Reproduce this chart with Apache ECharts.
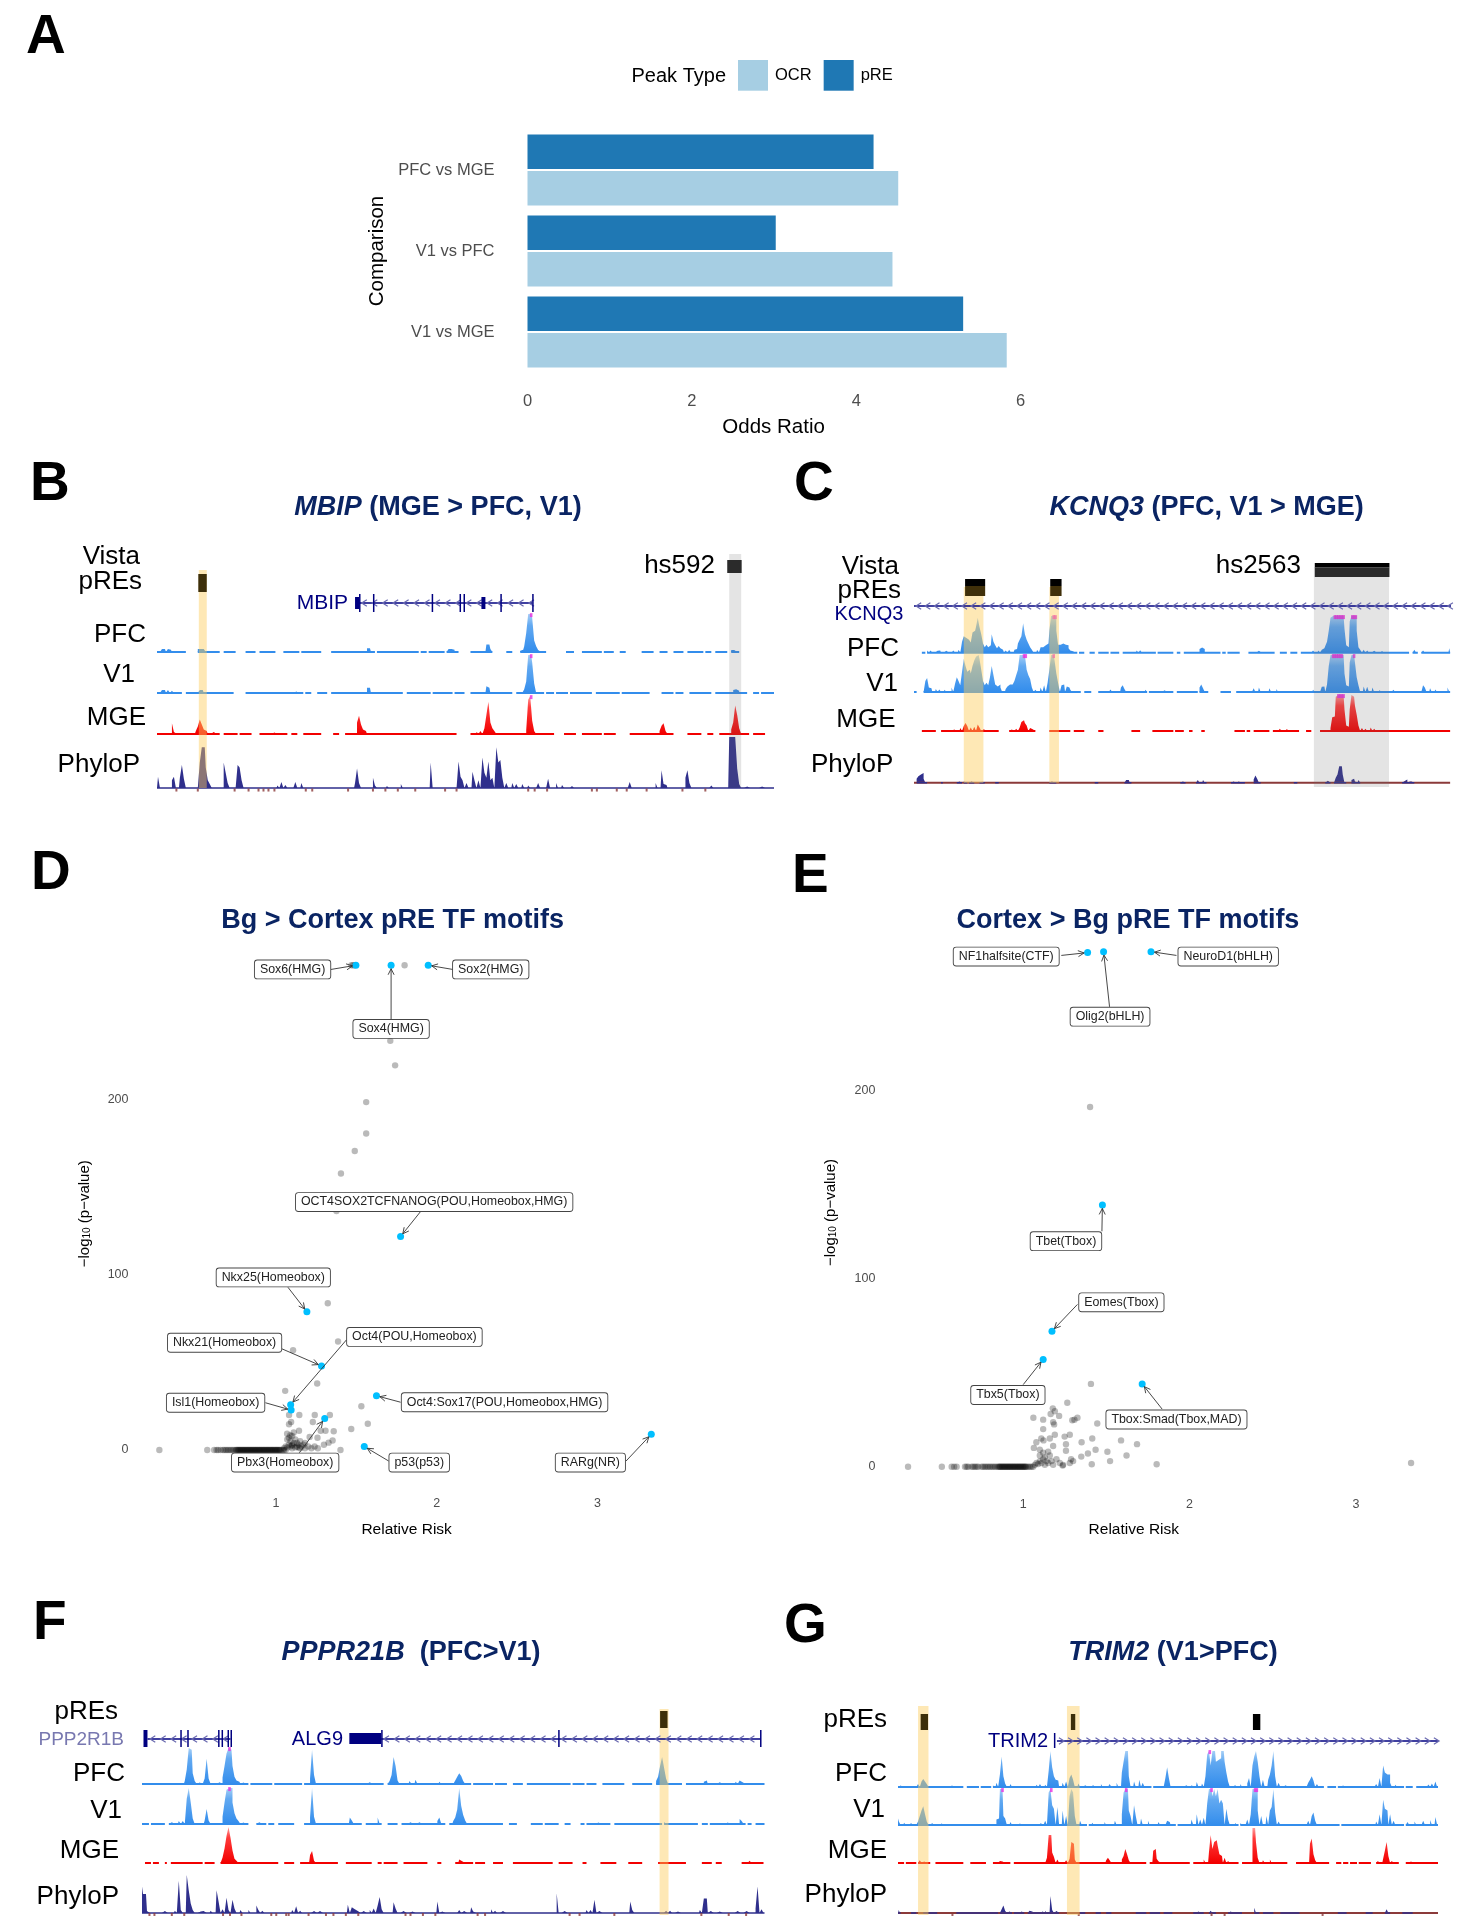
<!DOCTYPE html>
<html><head><meta charset="utf-8">
<style>html,body{margin:0;padding:0;background:#fff}#c{width:1464px;height:1920px}</style>
<script src="https://cdn.jsdelivr.net/npm/echarts@6/dist/echarts.min.js"></script>
</head><body><div id="c"></div>
<script>
// ---------- Panel A ----------
const comparisons=['PFC vs MGE','V1 vs PFC','V1 vs MGE'];
const orPRE=[4.21,3.02,5.30];
const orOCR=[4.51,4.44,5.83];

// ---------- Panel D ----------
const dGreyX=[1.469,1.479,1.49,1.8,1.711,1.741,1.561,1.561,1.49,1.404,1.376,1.322,1.386,1.106,1.256,1.057,1.531,1.335,1.241,1.145,1.081,1.229,1.571,1.094,1.081,1.468,1.143,1.278,1.308,1.359,1.069,1.089,1.209,1.258,1.352,1.327,1.298,1.401,1.05,1.06,1.07,1.08,1.09,1.09,1.1,1.1,1.11,1.12,1.12,1.13,1.13,1.14,1.15,1.15,1.16,1.17,1.18,1.18,1.2,1.22,1.07,1.08,1.1,1.11,1.24,1.26,1.1,1.14];
const dGreyY=[277,277,277,277,233.8,219.8,198.8,180.9,170.9,158,136.6,83.9,62,57,38,33.8,25,20,20,20,20,16,15,16,14.7,12,11,11,11,10.7,9.3,8.4,7.5,7,5.4,4.2,3,0,1,2,1.5,3,2,5,1,3,4,1.5,6,2,4,3,1,5,2,3,1,4,2,1,6,7,8,10,2,1,2.5,1.5];
const dRowX=[.274,.572,.615,.63,.64,.655,.67,.68,.69,.7,.71,.72,.73,.74,.75,.755,.76,.765,.77,.775,.78,.785,.79,.795,.8,.805,.81,.815,.82,.825,.83,.835,.84,.845,.85,.855,.86,.865,.87,.875,.88,.885,.89,.895,.9,.905,.91,.915,.92,.925,.93,.935,.94,.945,.95,.955,.96,.965,.97,.975,.98,.985,.99,.995,1,1.005,1.01,1.015,1.02,1.025,1.03,1.04,1.05,1.06];
const dMotifs=['Sox6(HMG)','Sox4(HMG)','Sox2(HMG)','OCT4SOX2TCFNANOG(POU,Homeobox,HMG)','Nkx25(Homeobox)','Nkx21(Homeobox)','Oct4(POU,Homeobox)','Isl1(Homeobox)','Pbx3(Homeobox)','Oct4:Sox17(POU,Homeobox,HMG)','p53(p53)','RARg(NR)'];
const dRisk=[1.497,1.716,1.947,1.775,1.192,1.283,1.091,1.094,1.303,1.625,1.549,3.335];
const dLogP=[277,277,277,122,79,48,25.9,22.8,18,31,2,9];
const dLabelX=[1.103,1.716,2.336,1.984,.983,.68,1.861,.624,1.057,2.422,1.891,2.956];
const dLabelY=[274.6,240.6,274.6,141.7,98.6,61.3,64.6,27,-7.2,27.3,-7.2,-7.2];
const dLeadX=[1.342,1.716,2.1,1.898,1.074,1.037,1.438,.934,1.145,1.775,1.701,3.178];
const dLeadY=[274.6,246,274.6,136.1,93,57.8,62.9,27,-1.6,27.3,-6.3,-6.3];

// ---------- Panel E ----------
const eGreyX=[1.402,1.407,1.265,1.178,1.19,1.165,1.216,1.061,1.12,1.326,1.308,1.295,1.18,1.186,1.445,1.12,1.28,1.19,1.16,1.109,1.122,1.249,1.415,1.588,1.684,1.351,1.079,1.257,1.064,1.18,1.257,1.435,1.506,1.621,1.389,1.349,1.288,1.522,1.412,1.802,1.237,3.331,1.07,1.08,1.09,1.1,1.1,1.11,1.12,1.13,1.13,1.14,1.15,1.16,1.17,1.18,1.2,1.22,1.1,1.12,1.15,1.24,1.28,1.3];
const eGreyY=[191,44,34,31,29.5,28,27,26,25,26,25,24.7,23.6,22.5,23,20,17,17,15,15,14,16,15,14,12,13,13,12,10,11,8.5,9,8,6,7,5.4,4,3,1.3,1.3,.6,2,1,2,1.5,3,6,2,4,1,5,3,2,6,3,1,4,2,9,7.5,8,1,2,3];
const eRowX=[.308,.511,.57,.585,.6,.65,.66,.67,.69,.7,.71,.72,.73,.75,.76,.77,.78,.79,.8,.81,.82,.83,.84,.85,.855,.86,.865,.87,.875,.88,.885,.89,.895,.9,.905,.91,.915,.92,.925,.93,.935,.94,.945,.95,.955,.96,.965,.97,.975,.98,.985,.99,.995,1,1.005,1.01,1.015,1.02,1.03,1.04,1.05,1.06];
const eMotifs=['NF1halfsite(CTF)','Olig2(bHLH)','NeuroD1(bHLH)','Tbet(Tbox)','Eomes(Tbox)','Tbx5(Tbox)','Tbox:Smad(Tbox,MAD)'];
const eRisk=[1.387,1.483,1.768,1.476,1.173,1.12,1.715];
const eLogP=[273,273.5,273.5,139,72,57,44];
const eLabelX=[.898,1.522,2.232,1.257,1.59,.908,1.921];
const eLabelY=[270.9,239,270.9,119.8,87.3,38.1,25.1];
const eLeadX=[1.229,1.519,1.921,1.473,1.326,1,1.835];
const eLeadY=[271.5,244.2,271.5,125,86.2,43.6,30.6];

// ---------- Browser tracks: covered ranges, then position,height pairs ----------
const bPfcCov=[[316,372],[398,443],[450,472],[495,512],[523,553],[570,600],[605,645],[668,752],[758,764],[768,840],[848,856],[862,895],[900,922],[945,990],[1020,1030],[1048,1096],[1140,1152],[1170,1210],[1215,1232],[1248,1258],[1290,1312],[1328,1340],[1355,1375],[1382,1412],[1420,1428],[1440,1462],[1470,1485]];
const bPfcVal=[328,8,332,8,340,8,344,6,400,8,404,8,408,8,412,8,740,10,744,10,904,8,908,8,912,6,980,20,984,20,988,8,1048,3,1052,6,1056,15,1060,50,1064,100,1068,100,1072,90,1076,30,1080,15,1084,5,1472,5,1476,5];
const bPfcClip=[1068];
const bV1Cov=[[316,365],[375,470],[495,532],[535,608],[615,624],[640,656],[668,810],[818,865],[870,910],[915,932],[945,1010],[1012,1030],[1040,1095],[1100,1112],[1118,1142],[1148,1188],[1200,1245],[1250,1305],[1330,1355],[1360,1375],[1385,1430],[1440,1500],[1515,1525],[1530,1558]];
const bV1Val=[328,8,332,8,340,8,348,6,404,8,408,8,596,4,740,14,744,14,980,18,984,14,1052,5,1056,10,1060,30,1064,100,1068,100,1072,80,1076,25,1372,4,1474,8,1478,10,1482,6];
const bV1Clip=[1068];
const bMgeCov=[[316,390],[392,440],[452,478],[484,505],[522,578],[588,598],[610,645],[672,680],[695,918],[948,1028],[1030,1112],[1135,1158],[1170,1210],[1215,1238],[1268,1355],[1382,1408],[1422,1432],[1448,1505],[1515,1538]];
const bMgeVal=[348,28,352,5,396,8,400,20,404,38,408,25,412,12,416,8,428,5,548,4,552,4,720,30,724,48,728,25,732,12,736,8,960,6,968,8,976,15,980,50,984,85,988,30,992,15,996,8,1060,10,1064,90,1068,100,1072,35,1076,8,1280,4,1326,8,1330,22,1334,28,1338,8,1470,12,1474,30,1478,75,1482,50,1486,15];
const bMgeClip=[1068];
const bPhyloCov=[[316,1558]];
const bPhyloVal=[318,22,346,15,350,22,362,20,366,45,370,18,404,50,408,80,412,80,416,40,420,15,424,8,452,50,456,30,460,10,480,45,484,40,488,15,560,5,568,12,576,6,594,12,606,10,648,3,716,10,720,38,724,10,750,20,754,5,780,4,808,8,868,50,924,52,928,22,932,15,940,10,952,32,956,15,964,15,970,60,974,30,978,20,982,52,986,15,990,20,998,80,1002,50,1006,55,1010,20,1020,10,1030,10,1040,8,1050,8,1064,5,1084,10,1104,18,1118,10,1130,6,1150,4,1266,12,1320,10,1330,35,1334,8,1340,6,1380,20,1384,35,1388,10,1430,5,1466,100,1470,100,1474,100,1478,100,1482,38,1486,8,1500,3,1530,3];
const bPhyloNeg=[355,398,472,500,520,530,540,552,615,628,700,750,775,800,835,895,918,1062,1075,1100,1190,1200,1240,1260,1300,1372,1418];

const cPfcCov=[[328,335],[338,680],[688,698],[712,722],[730,752],[758,778],[788,860],[868,902],[912,918],[925,1010],[1015,1022],[1028,1052],[1073,1132],[1145,1160],[1170,1185],[1195,1440],[1450,1460],[1470,1538]];
const cPfcVal=[340,6,348,6,360,5,368,6,380,5,400,6,412,8,420,30,424,45,428,40,432,35,436,30,440,28,444,55,448,60,452,70,456,95,460,70,464,50,468,25,472,15,476,22,480,15,484,20,488,50,492,30,496,20,500,12,504,18,508,12,512,8,520,6,528,8,540,8,544,10,548,25,552,35,556,45,560,80,564,50,568,35,572,25,576,15,580,8,592,8,600,15,604,15,608,20,612,18,616,25,620,60,624,100,628,100,632,100,636,60,640,22,644,22,648,25,652,20,656,22,660,20,664,12,668,6,672,4,820,6,828,7,964,10,968,14,972,10,1096,5,1208,5,1224,6,1236,6,1244,8,1248,12,1252,18,1256,30,1260,60,1264,95,1268,100,1272,100,1276,100,1280,100,1284,100,1288,100,1292,100,1296,65,1300,20,1304,15,1308,85,1312,100,1316,100,1320,100,1324,60,1328,15,1332,8,1340,8,1348,6,1360,5,1380,4,1400,4,1456,8,1476,6,1536,12];
const cPfcClip=[1272,1276,1280,1284,1288,1292,1312,1316,1320,628,632];
const cV1Cov=[[308,315],[332,516],[520,690],[698,712],[732,840],[845,900],[912,958],[962,980],[1010,1032],[1048,1538]];
const cV1Val=[336,30,340,38,344,12,348,10,360,8,368,7,380,6,396,12,404,22,408,40,412,30,416,18,420,55,424,90,428,70,432,55,436,60,440,50,444,70,448,85,452,95,456,100,460,90,464,60,468,30,472,18,476,25,480,18,484,40,488,70,492,45,496,20,500,15,504,20,508,12,520,8,524,15,528,20,532,20,536,25,540,30,544,45,548,60,552,100,556,100,560,100,564,100,568,60,572,45,576,35,580,12,588,6,600,12,608,18,616,25,620,60,624,100,628,100,632,85,636,50,640,25,648,18,652,20,660,15,664,12,668,6,744,5,760,7,784,12,788,18,792,8,840,6,880,5,964,12,968,20,972,10,1060,4,1088,10,1100,12,1124,10,1140,8,1168,5,1224,6,1244,14,1248,15,1256,20,1260,70,1264,100,1268,100,1272,100,1276,100,1280,100,1284,100,1288,100,1292,100,1296,50,1300,18,1304,15,1308,80,1312,100,1316,100,1320,80,1324,40,1328,18,1340,15,1348,14,1360,12,1376,6,1408,6,1476,18,1480,12,1492,10,1504,7,1532,12];
const cV1Clip=[560,564,628,1268,1272,1276,1280,1284,1288,1316];
const cMgeCov=[[328,356],[370,500],[527,586],[618,665],[675,698],[732,740],[808,826],[855,902],[908,925],[938,945],[965,974],[1043,1065],[1070,1078],[1088,1120],[1132,1190],[1205,1218],[1240,1538]];
const cMgeVal=[400,4,416,8,424,14,428,22,432,14,440,10,448,12,456,18,460,10,468,5,480,3,532,4,544,6,552,10,556,25,560,30,564,22,568,15,576,8,580,5,1148,6,1160,5,1264,8,1268,38,1272,40,1276,95,1280,100,1284,100,1288,100,1292,100,1296,60,1300,15,1304,12,1308,60,1312,100,1316,95,1320,70,1324,45,1328,15,1336,8,1344,6,1356,10,1364,6,1380,4];
const cMgeClip=[1280,1284,1288,1292];
const cPhyloCov=[[316,336],[408,416],[421,429],[436,444],[460,468],[495,503],[620,634],[722,730],[792,804],[920,930],[955,964],[968,976],[1036,1056],[1060,1066],[1086,1100],[1178,1186],[1252,1260],[1270,1296],[1310,1330],[1428,1452]];
const cPhyloVal=[316,12,320,20,324,25,328,30,332,12,372,3,412,4,424,4,440,4,464,3,500,6,624,4,632,4,728,3,796,8,800,8,924,4,960,8,972,8,1040,4,1052,4,1064,4,1088,10,1092,22,1096,12,1184,6,1256,6,1276,15,1280,25,1284,50,1288,50,1292,25,1312,8,1316,12,1320,4,1328,8,1432,5,1436,10,1444,4,1448,4];
const cPhyloBase=[[308,1538]];

const fPfcCov=[[285,498],[505,545],[550,605],[612,770],[780,945],[950,990],[995,1018],[1030,1052],[1060,1145],[1150,1175],[1180,1198],[1210,1254],[1270,1310],[1325,1370],[1378,1538]];
const fPfcVal=[293,4,349,3,373,8,377,40,381,100,385,95,389,30,393,8,401,4,413,15,417,70,421,15,441,5,449,18,453,50,457,85,461,100,465,95,469,50,473,20,477,10,481,6,489,4,529,3,565,3,625,15,629,95,633,25,689,3,709,4,741,5,761,3,785,8,789,25,793,75,797,50,801,10,825,8,837,12,853,5,885,6,917,10,921,20,925,30,929,22,933,8,1081,3,1109,3,1321,8,1325,20,1329,50,1333,75,1337,45,1341,15,1417,6,1421,10,1445,5,1481,6,1489,10,1493,5];
const fPfcClip=[461];
const fV1Cov=[[285,300],[305,330],[340,500],[515,535],[540,552],[560,590],[612,728],[735,768],[778,800],[808,895],[905,1012],[1022,1038],[1068,1090],[1095,1122],[1135,1148],[1168,1176],[1180,1225],[1235,1330],[1340,1400],[1410,1422],[1428,1498],[1505,1512],[1520,1538]];
const fV1Val=[345,5,361,8,369,8,377,70,381,100,385,60,389,15,413,10,417,42,421,10,449,20,453,60,457,95,461,100,465,100,469,60,473,30,477,15,481,8,489,4,521,5,625,18,629,100,633,20,705,18,709,10,725,5,761,18,825,5,841,5,881,8,885,18,913,8,917,18,921,40,925,100,929,50,933,25,937,10,989,4,1201,4,1329,4,1337,5,1401,4,1461,4,1489,14,1493,8];
const fV1Clip=[461];
const fMgeCov=[[292,302],[308,318],[330,336],[345,405],[412,432],[442,560],[570,590],[605,680],[695,745],[758,768],[770,800],[810,858],[880,888],[915,950],[955,975],[990,1012],[1030,1110],[1125,1150],[1172,1180],[1208,1240],[1262,1290],[1325,1380],[1412,1432],[1440,1452],[1490,1535]];
const fMgeVal=[449,15,453,40,457,75,461,100,465,70,469,35,473,12,477,6,625,22,629,33,633,6,925,10,929,5,1509,6];
const fPhyloCov=[[285,1538]];
const fPhyloVal=[285,70,289,50,293,50,297,5,329,5,345,5,353,6,361,85,365,8,377,100,381,60,385,25,389,8,401,4,409,5,425,6,437,60,441,30,449,10,457,40,461,8,469,35,473,12,485,8,501,8,517,20,521,8,529,6,589,8,597,18,605,6,629,5,641,5,701,22,709,15,713,10,717,5,729,5,745,8,753,12,761,20,765,42,769,10,793,28,797,12,809,5,829,4,861,4,881,30,889,4,925,8,933,5,949,15,953,4,989,10,997,6,1009,5,1121,52,1133,5,1149,5,1181,8,1189,8,1197,35,1205,5,1225,4,1269,30,1273,8,1301,3,1341,6,1349,6,1361,4,1409,8,1417,38,1421,38,1429,5,1445,4,1481,5,1501,5,1521,12,1525,70,1533,10];
const fPhyloNeg=[300,310,345,370,448,462,485,545,555,575,580,620,655,670,695,720,815,825,850,875,960,975,1145,1165,1235,1410,1465,1500];

const gPfcCov=[[270,418],[430,455],[460,484],[490,850],[858,1248],[1255,1275],[1280,1430],[1438,1450],[1460,1510]];
const gPfcVal=[274,4,278,3,318,8,326,15,330,22,334,15,338,8,366,4,394,4,490,4,498,12,506,35,510,85,514,30,518,10,530,8,546,5,590,6,598,8,610,6,618,45,622,100,626,55,630,30,634,20,638,18,650,12,658,15,666,25,670,35,674,20,686,10,698,5,718,5,738,8,758,8,774,12,786,40,790,70,794,100,798,100,802,30,814,15,826,20,834,12,846,5,882,5,886,25,890,55,894,25,930,5,946,6,958,14,970,10,978,30,982,90,986,100,990,60,994,100,998,100,1002,70,1006,75,1010,80,1014,100,1018,100,1022,70,1026,40,1030,15,1042,5,1058,8,1074,10,1078,25,1086,60,1090,85,1094,100,1098,70,1102,30,1110,20,1122,20,1126,35,1130,60,1134,100,1138,30,1146,12,1158,5,1214,12,1218,20,1222,30,1226,18,1234,8,1246,4,1290,4,1342,4,1370,8,1378,25,1386,60,1390,40,1394,35,1398,35,1402,12,1414,6,1490,7,1498,10,1506,15];
const gPfcClip=[986];
const gV1Cov=[[270,705],[710,908],[912,1050],[1055,1258],[1262,1285],[1290,1430],[1435,1510]];
const gV1Val=[270,18,274,10,286,6,298,5,318,10,322,25,326,40,330,52,334,30,338,10,350,6,370,4,398,3,498,15,502,18,506,100,510,100,514,25,518,18,530,8,550,4,598,5,610,12,618,90,622,100,626,55,630,45,638,50,650,40,658,25,666,80,670,100,674,90,678,25,690,12,718,6,746,8,770,12,786,30,790,90,794,100,798,100,802,40,806,25,814,55,818,25,830,18,846,12,870,8,890,12,894,8,926,5,946,15,958,30,966,15,974,20,982,60,986,100,990,100,994,80,998,100,1002,80,1006,100,1010,60,1014,70,1018,60,1026,45,1030,15,1046,6,1058,5,1074,15,1082,30,1086,100,1090,100,1094,100,1098,40,1106,25,1118,25,1126,40,1130,50,1134,100,1138,35,1146,10,1174,4,1214,12,1222,25,1226,35,1230,12,1270,4,1298,3,1370,10,1378,30,1386,70,1390,45,1394,40,1402,30,1410,12,1442,8,1458,10,1478,12,1494,14,1506,22];
const gV1Clip=[510,622,794,990,1090,1094];
const gMgeCov=[[270,285],[290,312],[315,345],[358,418],[435,470],[488,528],[535,718],[722,840],[850,940],[948,1052],[1060,1165],[1185,1258],[1275,1288],[1292,1302],[1308,1322],[1328,1342],[1345,1355],[1368,1420],[1435,1510]];
const gMgeVal=[322,8,330,4,506,6,510,4,614,15,618,80,622,80,626,30,630,18,638,10,658,8,666,12,670,60,674,55,678,10,750,8,754,15,758,8,786,10,790,20,794,40,798,25,802,8,858,35,862,40,866,12,870,5,974,10,986,30,990,80,994,40,998,60,1002,65,1006,50,1010,25,1014,20,1022,15,1030,6,1086,100,1090,100,1094,60,1098,15,1110,8,1126,10,1218,55,1222,70,1226,25,1230,8,1374,6,1386,12,1390,35,1394,60,1398,20,1406,6,1446,4];
const gPhyloCov=[[270,276],[300,310],[330,360],[405,500],[505,530],[535,560],[570,640],[690,700],[725,735],[750,760],[815,840],[850,870],[880,900],[950,970],[985,1000],[1030,1060],[1090,1100],[1110,1130],[1150,1190],[1280,1300],[1345,1360],[1390,1400],[1430,1450]];
const gPhyloVal=[270,8,510,10,514,20,518,6,526,4,554,4,574,6,578,4,602,4,610,6,622,45,626,8,634,5,958,4,990,6,1034,4,1090,14,1394,10,1442,5];
const gPhyloBase=[[270,1510]];
const gPhyloNeg=[395,685,990,1245,1020];

// Regions along each browser window
const bYellow=[[400,416]], bGrey=[[1466,1490]], bBrownBox=[[399,416]], bDarkBox=[[1462,1491]];
const cYellow=[[422,467],[618,640]], cGrey=[[1224,1396]], cBoxes=[[425,471],[620,646]], cHsBox=[[1226,1397]];
const fYellow=[[1326,1344]], fBrownBox=[[1327,1342]];
const gYellow=[[316,340],[658,687]], gBrownBox=[[322,339],[667,677]], gBlackBox=[[1085,1102]];
// Gene models: intron range, wide exons, thin exons
const mbipIntron=[[722,1070]], mbipWide=[[714,722],[968,976]], mbipThin=[722,750,868,924,932,1006,1070];
const kcnq3Intron=[[308,1538]];
const ppp2Intron=[[296,463]], ppp2Wide=[[288,296]], ppp2Thin=[362,376,438,445,457,463];
const alg9Intron=[[766,1530]], alg9Wide=[[702,766]], alg9Thin=[766,1122,1528];
const trim2Intron=[[635,1510]], trim2Thin=[628];

// ---------- Helpers ----------
const FONT='"Liberation Sans",Arial,Helvetica,sans-serif', NAVY='#0a2463', GENE='#000080';
const STEP=4;
const grid=[],xAxis=[],yAxis=[],series=[],graphic=[];
function addGrid(r,xa,ya){grid.push(r);const i=grid.length-1;
  xAxis.push(Object.assign({gridIndex:i},xa));yAxis.push(Object.assign({gridIndex:i},ya));return i;}
const hidden=(min,max)=>({type:'value',show:false,min,max});
function binned(xMin,xMax,cov,vals){
  const out=[];
  for(let p=xMin;p<=xMax;p+=STEP) out.push([p,cov.some(s=>p>=s[0]&&p<=s[1])?0:null]);
  for(let i=0;i<vals.length;i+=2){
    const o=out[Math.round((vals[i]-xMin)/STEP)];
    if(o) o[1]=Math.max(o[1]||0,vals[i+1]);
  }
  return out;
}
const grad=(a,b,c)=>new echarts.graphic.LinearGradient(0,0,0,1,[{offset:0,color:a},{offset:.3,color:b},{offset:1,color:c}]);
function addLine(i,data,color,width,z){
  series.push({type:'line',step:'middle',xAxisIndex:i,yAxisIndex:i,data,symbol:'none',showSymbol:false,silent:true,clip:false,z,
    lineStyle:{width,color},itemStyle:{color}});
}
function addTrack(p,t){
  const i=addGrid({left:p.left,width:p.width,top:t.top,height:t.base-t.top,containLabel:false},hidden(p.xMin,p.xMax),hidden(0,100));
  const d=binned(p.xMin,p.xMax,t.cov,t.vals);
  series.push({type:'line',step:'middle',xAxisIndex:i,yAxisIndex:i,data:d,symbol:'none',showSymbol:false,silent:true,clip:false,z:2,
    lineStyle:{width:0},areaStyle:{opacity:1,color:grad(t.c[0],t.c[1],t.c[2])}});
  addLine(i,d.map(v=>[v[0],v[1]===null?null:0]),t.c[2],2,2);
  if(t.clip) series.push({type:'scatter',xAxisIndex:i,yAxisIndex:i,data:t.clip.map(x=>[x,97]),symbol:'rect',symbolSize:[2.6,4],silent:true,z:3,itemStyle:{color:'#ea2fe0'}});
  return i;
}
function addPhylo(p,t){
  const h=t.base-t.top;
  const i=addGrid({left:p.left,width:p.width,top:t.top,height:h*1.1},hidden(p.xMin,p.xMax),hidden(-10,100));
  if(t.brown) addLine(i,binned(p.xMin,p.xMax,t.brown,[]),'#8b3a3a',2,2);
  const d=binned(p.xMin,p.xMax,t.cov,t.vals);
  series.push({type:'line',step:'middle',xAxisIndex:i,yAxisIndex:i,data:d,symbol:'none',showSymbol:false,silent:true,clip:false,z:2,
    lineStyle:{width:0},areaStyle:{opacity:1,color:'#2f2f8c'}});
  addLine(i,d.map(v=>[v[0],v[1]===null?null:0]),'#2f2f8c',1.6,2);
  if(t.neg) series.push({type:'scatter',xAxisIndex:i,yAxisIndex:i,data:t.neg.map(x=>[x,-4]),symbol:'rect',symbolSize:[2,3],silent:true,z:2,itemStyle:{color:'#8b3a3a'}});
  return i;
}
function spans(i,list,y0,y1,fill,z){
  series.push({type:'custom',xAxisIndex:i,yAxisIndex:i,silent:true,z,clip:false,data:list,encode:{x:[0,1]},
    renderItem(_,api){
      const a=api.coord([api.value(0),0])[0],b=api.coord([api.value(1),0])[0];
      return {type:'rect',shape:{x:a,y:y0,width:Math.max(b-a,1.5),height:y1-y0},style:{fill}};
    }});
}
function ticks(i,list,y0,y1,color){spans(i,list.map(x=>[x,x]),y0,y1,color,6);}
function gene(i,list,y,dir,spacing,color,chev){
  series.push({type:'custom',xAxisIndex:i,yAxisIndex:i,silent:true,z:6,clip:false,data:list,encode:{x:[0,1]},
    renderItem(_,api){
      const v0=api.value(0),v1=api.value(1),a=api.coord([v0,0])[0],b=api.coord([v1,0])[0];
      const ch=[{type:'line',shape:{x1:a,y1:y,x2:b,y2:y},style:{stroke:color,lineWidth:1.5}}];
      for(let v=v0+spacing/2;v<v1;v+=spacing){
        const x=api.coord([v,0])[0];
        ch.push({type:'polyline',shape:{points:[[x-dir*2.6,y-3.2],[x+dir*2.6,y],[x-dir*2.6,y+3.2]]},style:{fill:'none',stroke:chev,lineWidth:1.2}});
      }
      return {type:'group',children:ch};
    }});
}
function text(t,x,y,o){
  graphic.push({type:'text',x,y,silent:true,z:20,style:Object.assign({text:t,fontFamily:FONT,fontSize:26,fill:'#000',align:'right',verticalAlign:'middle'},o||{})});
}
const BLUE=['#a6cff6','#62a9f1','#338dec'],RED=['#ff9c9c','#ff3a3a','#f20000'];
const YEL='rgba(252,204,90,.45)',GREY='rgba(110,110,110,.19)';

// ---------- Panel A ----------
{
  const i=addGrid({left:527.5,width:493.2,top:129.5,height:243},
    {type:'value',min:0,max:6,interval:2,name:'Odds Ratio',nameLocation:'middle',nameGap:44,nameTextStyle:{fontSize:20.5,color:'#000',fontFamily:FONT,padding:[0,0,0,-1]},
     axisLine:{show:false},axisTick:{show:false},splitLine:{show:false},axisLabel:{fontSize:16.5,color:'#4d4d4d',fontFamily:FONT,margin:20}},
    {type:'category',inverse:true,data:comparisons,name:'Comparison',nameLocation:'middle',nameGap:140,nameRotate:90,nameTextStyle:{fontSize:20.5,color:'#000',fontFamily:FONT},
     axisLine:{show:false},axisTick:{show:false},splitLine:{show:false},axisLabel:{fontSize:16.5,color:'#4d4d4d',fontFamily:FONT,margin:33}});
  series.push({name:'pRE',type:'bar',xAxisIndex:i,yAxisIndex:i,data:orPRE,barWidth:34.5,barGap:'6%',itemStyle:{color:'#1f78b4'},silent:true});
  series.push({name:'OCR',type:'bar',xAxisIndex:i,yAxisIndex:i,data:orOCR,barWidth:34.5,barGap:'6%',itemStyle:{color:'#a6cee3'},silent:true});
  text('Peak Type',726,76,{fontSize:20});
}

// ---------- Panel B ----------
{
  const p={left:157,width:618,xMin:316,xMax:1558};
  const a=addTrack(p,{top:614,base:652,c:BLUE,cov:bPfcCov,vals:bPfcVal,clip:bPfcClip});
  addTrack(p,{top:655,base:693,c:BLUE,cov:bV1Cov,vals:bV1Val,clip:bV1Clip});
  addTrack(p,{top:696,base:734,c:RED,cov:bMgeCov,vals:bMgeVal,clip:bMgeClip});
  addPhylo(p,{top:737,base:788,cov:bPhyloCov,vals:bPhyloVal,neg:bPhyloNeg});
  spans(a,bYellow,570,788,YEL,5);spans(a,bGrey,554,788,GREY,5);
  spans(a,bBrownBox,574,592,'#3d2f0a',6);spans(a,bDarkBox,560,573,'#2b2b2b',6);
  gene(a,mbipIntron,603,-1,21,GENE,'#6a6ab0');
  ticks(a,mbipThin,594,612,GENE);spans(a,mbipWide,597,609,GENE,6);
  [['Vista',140,557],['pREs',142,582],['PFC',146,635],['V1',135,675],['MGE',146,718],['PhyloP',140,765],['hs592',715,566]].forEach(t=>text(t[0],t[1],t[2]));
  text('MBIP',348,603,{fontSize:21,fill:GENE});
}
// ---------- Panel C ----------
{
  const p={left:914,width:537,xMin:308,xMax:1538};
  const a=addTrack(p,{top:616,base:652.7,c:BLUE,cov:cPfcCov,vals:cPfcVal,clip:cPfcClip});
  addTrack(p,{top:655,base:692,c:BLUE,cov:cV1Cov,vals:cV1Val,clip:cV1Clip});
  addTrack(p,{top:695,base:731,c:RED,cov:cMgeCov,vals:cMgeVal,clip:cMgeClip});
  addPhylo(p,{top:750,base:782.7,cov:cPhyloCov,vals:cPhyloVal,brown:cPhyloBase});
  spans(a,cYellow,587,783,YEL,5);spans(a,cGrey,567,787,GREY,5);
  spans(a,cBoxes,579,586,'#000',6);spans(a,cBoxes,586,596,'#40300a',6);
  spans(a,cHsBox,563,567.5,'#000',6);spans(a,cHsBox,567.5,577,'#2b2b2b',6);
  gene(a,kcnq3Intron,606,-1,21,GENE,'#6a6ab0');
  [['Vista',899,567],['pREs',901,591],['PFC',899,649],['V1',898,684],['MGE',895.5,720],['PhyloP',893.4,765],['hs2563',1301,566]].forEach(t=>text(t[0],t[1],t[2]));
  text('KCNQ3',903.4,614,{fontSize:20,fill:GENE});
}
// ---------- Panel F ----------
{
  const p={left:142,width:623,xMin:285,xMax:1538};
  const a=addTrack(p,{top:1748,base:1784,c:BLUE,cov:fPfcCov,vals:fPfcVal,clip:fPfcClip});
  addTrack(p,{top:1788,base:1824,c:BLUE,cov:fV1Cov,vals:fV1Val,clip:fV1Clip});
  addTrack(p,{top:1827,base:1863,c:RED,cov:fMgeCov,vals:fMgeVal});
  addPhylo(p,{top:1875,base:1913,cov:fPhyloCov,vals:fPhyloVal,neg:fPhyloNeg});
  spans(a,fYellow,1709,1915,YEL,5);spans(a,fBrownBox,1711,1728,'#3d2f0a',6);
  gene(a,ppp2Intron,1739,-1,21,GENE,'#6a6ab0');
  ticks(a,ppp2Thin,1730,1747,GENE);spans(a,ppp2Wide,1730,1747,GENE,6);
  gene(a,alg9Intron,1739,-1,21,GENE,'#6a6ab0');
  ticks(a,alg9Thin,1730,1747,GENE);spans(a,alg9Wide,1733,1744,GENE,6);
  [['pREs',118,1712],['PFC',125,1774],['V1',122,1811],['MGE',119,1851],['PhyloP',119,1897]].forEach(t=>text(t[0],t[1],t[2]));
  text('PPP2R1B',124,1740,{fontSize:19,fill:'#7878b0'});
  text('ALG9',343,1739,{fontSize:20,fill:GENE});
}
// ---------- Panel G ----------
{
  const p={left:898,width:540,xMin:270,xMax:1510};
  const a=addTrack(p,{top:1751,base:1787,c:BLUE,cov:gPfcCov,vals:gPfcVal,clip:gPfcClip});
  addTrack(p,{top:1789,base:1825,c:BLUE,cov:gV1Cov,vals:gV1Val,clip:gV1Clip});
  addTrack(p,{top:1828,base:1863,c:RED,cov:gMgeCov,vals:gMgeVal});
  addPhylo(p,{top:1875,base:1913,cov:gPhyloCov,vals:gPhyloVal,brown:gPhyloBase,neg:gPhyloNeg});
  spans(a,gYellow,1706,1915,YEL,5);
  spans(a,gBrownBox,1714,1730,'#3d2f0a',6);spans(a,gBlackBox,1714,1730,'#000',6);
  gene(a,trim2Intron,1741,1,21,GENE,'#6a6ab0');
  ticks(a,trim2Thin,1733,1748,GENE);
  [['pREs',887,1720],['PFC',887,1774],['V1',885,1810],['MGE',887,1851],['PhyloP',887,1895]].forEach(t=>text(t[0],t[1],t[2]));
  text('TRIM2',1048,1741,{fontSize:20,fill:GENE});
}

// ---------- Volcano panels ----------
function volcano(o){
  const g=o.g;
  const i=addGrid(g,
    {type:'value',min:.25,max:3.5,name:'Relative Risk',nameLocation:'middle',nameGap:o.xGap,
     nameTextStyle:{fontSize:15.5,color:'#000',fontFamily:FONT,padding:[0,o.xPad,0,0]},
     axisLine:{show:false,onZero:false},axisTick:{show:false},splitLine:{show:false},
     axisLabel:{customValues:[1,2,3],fontSize:12.5,color:'#4d4d4d',fontFamily:FONT,margin:o.xMargin}},
    {type:'value',min:o.yMin,max:o.yMax,name:'{a|\u2212log}{b|10}{a| (p\u2212value)}',nameLocation:'middle',nameGap:o.yGap,nameRotate:90,
     nameTextStyle:{fontFamily:FONT,padding:[0,0,0,o.yPad],rich:{a:{fontSize:15,color:'#000',fontFamily:FONT},b:{fontSize:10,color:'#000',fontFamily:FONT,verticalAlign:'bottom',padding:[4,0,0,0]}}},
     axisLine:{show:false,onZero:false},axisTick:{show:false},splitLine:{show:false},
     axisLabel:{customValues:[0,100,200],fontSize:12.5,color:'#4d4d4d',fontFamily:FONT,margin:o.yMargin}});
  const grey=o.gx.map((x,k)=>[x,o.gy[k]]).concat(o.row.map(x=>[x,0]));
  series.push({type:'scatter',xAxisIndex:i,yAxisIndex:i,data:grey,symbol:'circle',symbolSize:6.4,silent:true,z:2,itemStyle:{color:'#000',opacity:.27,borderWidth:0}});
  series.push({type:'scatter',xAxisIndex:i,yAxisIndex:i,data:o.rx.map((x,k)=>[x,o.ry[k]]),symbol:'circle',symbolSize:7,silent:true,z:3,itemStyle:{color:'#00bfff',opacity:1}});
  series.push({type:'custom',xAxisIndex:i,yAxisIndex:i,silent:true,z:4,clip:false,
    data:o.rx.map((x,k)=>[x,o.ry[k],o.sx[k],o.sy[k],o.lx[k],o.ly[k]]),encode:{x:[0,2,4],y:[1,3,5]},
    renderItem(params,api){
      const t=api.coord([api.value(0),api.value(1)]),s=api.coord([api.value(2),api.value(3)]),l=api.coord([api.value(4),api.value(5)]);
      const dx=t[0]-s[0],dy=t[1]-s[1],d=Math.hypot(dx,dy)||1,ux=dx/d,uy=dy/d;
      const tip=[t[0]-ux*3.5,t[1]-uy*3.5];
      const head=(sgn)=>[tip[0]-ux*6-sgn*uy*3,tip[1]-uy*6+sgn*ux*3];
      return {type:'group',children:[
        {type:'line',shape:{x1:s[0],y1:s[1],x2:tip[0],y2:tip[1]},style:{stroke:'#333',lineWidth:.9}},
        {type:'polyline',shape:{points:[head(1),tip,head(-1)]},style:{fill:'none',stroke:'#333',lineWidth:.9}},
        {type:'text',x:l[0],y:l[1],style:{text:o.names[params.dataIndex],fontFamily:FONT,fontSize:12.4,fill:'#222',align:'center',verticalAlign:'middle',
          backgroundColor:'#fff',borderColor:'#444',borderWidth:.9,borderRadius:2.5,padding:[3,5,3,5]}}
      ]};
    }});
}
volcano({g:{left:155.5,width:522.3,top:942.5,height:542.5},yMin:-20,yMax:290,xGap:37,xPad:20,xMargin:12,yGap:63,yPad:0,yMargin:27,
  gx:dGreyX,gy:dGreyY,row:dRowX,rx:dRisk,ry:dLogP,sx:dLeadX,sy:dLeadY,lx:dLabelX,ly:dLabelY,names:dMotifs});
volcano({g:{left:898.4,width:540.8,top:930,height:565},yMin:-15,yMax:285,xGap:27,xPad:70,xMargin:3,yGap:60,yPad:0,yMargin:23,
  gx:eGreyX,gy:eGreyY,row:eRowX,rx:eRisk,ry:eLogP,sx:eLeadX,sy:eLeadY,lx:eLabelX,ly:eLabelY,names:eMotifs});

// ---------- Panel letters ----------
[['A',26,37.5],['B',30,485],['C',794,485],['D',31,873.5],['E',792,877],['F',33,1624],['G',784,1627]].forEach(t=>
  text(t[0],t[1],t[2],{align:'left',fontSize:55,fontWeight:'bold'}));

// ---------- Titles ----------
function ttl(rich,left,y,sz){
  const n={fontSize:sz,fontWeight:'bold',color:NAVY,fontFamily:FONT},it=Object.assign({},n,{fontStyle:'italic'});
  return {text:rich,left,top:y-sz*.6,textAlign:'center',padding:0,textStyle:Object.assign({},n,{rich:{i:it,n}})};
}
const title=[
  ttl('{i|MBIP}{n| (MGE > PFC, V1)}',438,510,27),
  ttl('{i|KCNQ3}{n| (PFC, V1 > MGE)}',1206.6,510,27),
  ttl('{n|Bg > Cortex pRE TF motifs}',392.7,923,27),
  ttl('{n|Cortex > Bg pRE TF motifs}',1128,923,27),
  ttl('{i|PPPR21B}{n|  (PFC>V1)}',411,1655,27),
  ttl('{i|TRIM2}{n| (V1>PFC)}',1173,1655,27)
];

const chart=echarts.init(document.getElementById('c'),null,{renderer:'canvas',width:1464,height:1920});
chart.setOption({animation:false,backgroundColor:'#fff',title,grid,xAxis,yAxis,series,graphic,
  legend:{data:['OCR','pRE'],left:738,top:60,itemWidth:30,itemHeight:30.7,itemGap:12,icon:'rect',padding:0,selectedMode:false,
    textStyle:{fontSize:16.5,color:'#000',fontFamily:FONT,padding:[0,0,0,2]}}});
</script></body></html>
